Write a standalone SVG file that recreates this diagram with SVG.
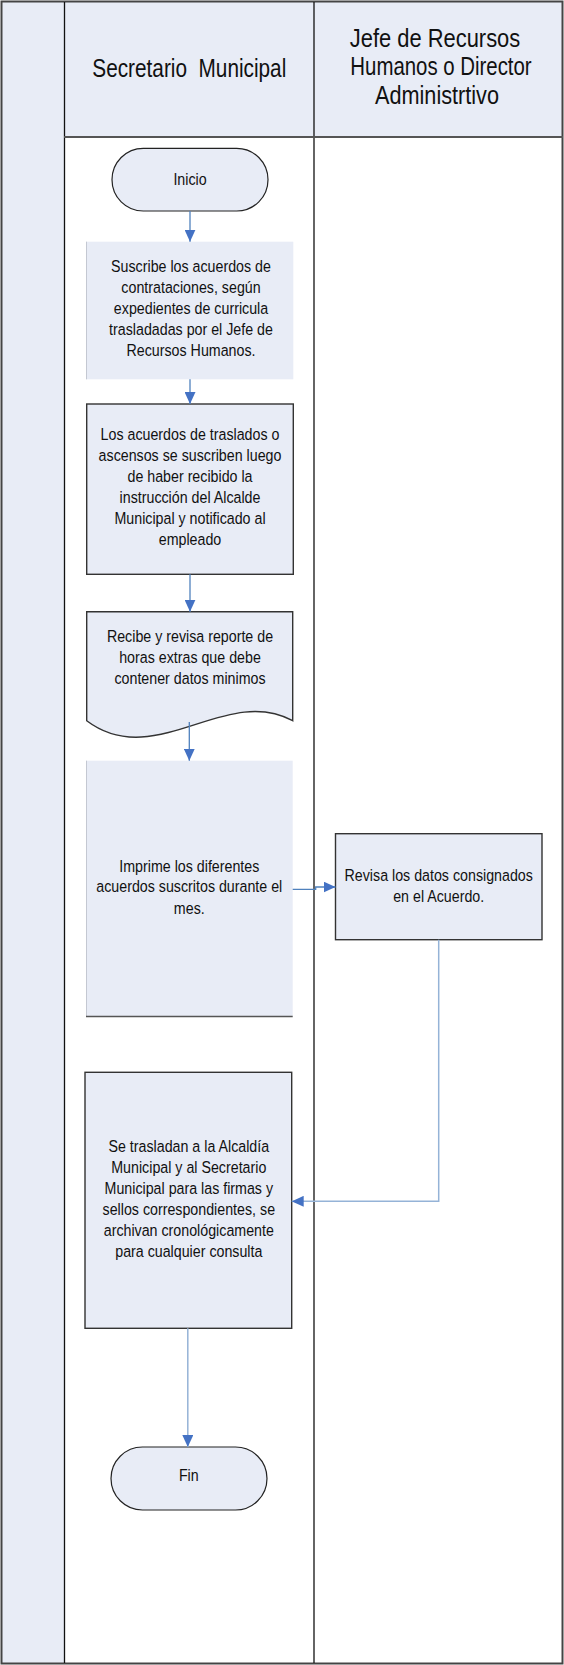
<svg xmlns="http://www.w3.org/2000/svg" width="564" height="1665" viewBox="0 0 564 1665">
<style>
.t{font-family:"Liberation Sans",Arial,sans-serif;font-size:17px;fill:#111;text-anchor:middle}
.h{font-family:"Liberation Sans",Arial,sans-serif;font-size:25.5px;fill:#111;text-anchor:middle}
.fill{fill:#E8ECF6}
.node{fill:#E8ECF6;stroke:#333;stroke-width:1.4}
.term{fill:#E8ECF6;stroke:#222;stroke-width:1.2}
.c1{fill:none;stroke:#4F81BD;stroke-width:1.3}
.c2{fill:none;stroke:#95B3D7;stroke-width:1.5}
</style>
<defs>
<marker id="ah" markerUnits="userSpaceOnUse" markerWidth="12" markerHeight="11" refX="12" refY="5.5" orient="auto">
<path d="M0,0 L12,5.5 L0,11 z" fill="#4472C4"/>
</marker>
</defs>
<g id="swimlanes">
<rect x="0" y="0" width="564" height="1665" fill="#fff"/>
<rect class="fill" x="2" y="2" width="62" height="1661"/>
<rect class="fill" x="64" y="2" width="498" height="135"/>
<rect x="1.5" y="1.5" width="561" height="1662" fill="none" stroke="#444" stroke-width="2"/>
<line x1="64.5" y1="2" x2="64.5" y2="1663" stroke="#111" stroke-width="1.3"/>
<line x1="314" y1="2" x2="314" y2="1663" stroke="#111" stroke-width="1.3"/>
<line x1="64" y1="137" x2="563" y2="137" stroke="#555" stroke-width="2"/>
<g transform="translate(189.3 0) scale(0.815 1)"><text class="h" x="0" y="77" xml:space="preserve">Secretario  Municipal</text></g>
<g transform="translate(435 0) scale(0.86 1)"><text class="h" x="0" y="47.5">Jefe de Recursos</text></g>
<g transform="translate(441 0) scale(0.80 1)"><text class="h" x="0" y="75.5">Humanos o Director</text></g>
<g transform="translate(437 0) scale(0.85 1)"><text class="h" x="0" y="104">Administrtivo</text></g>
</g>
<g id="inicio">
<rect class="term" x="112" y="148.3" width="156" height="62.7" rx="31.3"/>
<g transform="translate(190 0) scale(0.838 1)"><text class="t" x="0" y="185">Inicio</text></g>
</g>
<g id="suscribe">
<rect class="fill" x="86" y="241.7" width="207.3" height="137.6"/>
<line x1="86.5" y1="241.7" x2="86.5" y2="379.3" stroke="#c4c8d2" stroke-width="1"/>
<g transform="translate(191 0) scale(0.838 1)">
<text class="t" x="0" y="272.3">Suscribe los acuerdos de</text>
<text class="t" x="0" y="293.3">contrataciones, según</text>
<text class="t" x="0" y="314.2">expedientes de curricula</text>
<text class="t" x="0" y="335.1">trasladadas por el Jefe de</text>
<text class="t" x="0" y="356">Recursos Humanos.</text>
</g>
</g>
<g id="traslados">
<rect class="node" x="86.7" y="404" width="206.6" height="170.3"/>
<g transform="translate(190 0) scale(0.838 1)">
<text class="t" x="0" y="440">Los acuerdos de traslados o</text>
<text class="t" x="0" y="461">ascensos se suscriben luego</text>
<text class="t" x="0" y="482">de haber recibido la</text>
<text class="t" x="0" y="503">instrucción del Alcalde</text>
<text class="t" x="0" y="523.8">Municipal y notificado al</text>
<text class="t" x="0" y="545">empleado</text>
</g>
</g>
<g id="reporte">
<path class="node" d="M86.7,611.7 H292.7 V720.7 C225,684 155,772 86.7,720.7 Z"/>
<g transform="translate(190 0) scale(0.838 1)">
<text class="t" x="0" y="642.5">Recibe y revisa reporte de</text>
<text class="t" x="0" y="663.3">horas extras que debe</text>
<text class="t" x="0" y="684">contener datos minimos</text>
</g>
</g>
<g id="imprime">
<rect class="fill" x="86" y="760.7" width="206.7" height="256"/>
<line x1="86.5" y1="760.7" x2="86.5" y2="1016.7" stroke="#c4c8d2" stroke-width="1"/>
<line x1="86" y1="1016.5" x2="292.7" y2="1016.5" stroke="#555" stroke-width="1.3"/>
<g transform="translate(189.3 0) scale(0.838 1)">
<text class="t" x="0" y="871.7">Imprime los diferentes</text>
<text class="t" x="0" y="892.4">acuerdos suscritos durante el</text>
<text class="t" x="0" y="914">mes.</text>
</g>
</g>
<g id="revisa">
<rect class="node" x="335.5" y="833.7" width="206.5" height="106" stroke-width="1.6"/>
<g transform="translate(438.7 0) scale(0.838 1)">
<text class="t" x="0" y="880.7">Revisa los datos consignados</text>
<text class="t" x="0" y="902.3">en el Acuerdo.</text>
</g>
</g>
<g id="trasladan">
<rect class="node" x="85" y="1072.3" width="206.7" height="256"/>
<g transform="translate(188.8 0) scale(0.838 1)">
<text class="t" x="0" y="1152.3">Se trasladan a la Alcaldía</text>
<text class="t" x="0" y="1173.3">Municipal y al Secretario</text>
<text class="t" x="0" y="1194.2">Municipal para las firmas y</text>
<text class="t" x="0" y="1215.1">sellos correspondientes, se</text>
<text class="t" x="0" y="1236.1">archivan cronológicamente</text>
<text class="t" x="0" y="1257.2">para cualquier consulta</text>
</g>
</g>
<g id="fin">
<rect class="term" x="111" y="1447" width="156" height="63" rx="31.5"/>
<g transform="translate(188.8 0) scale(0.838 1)"><text class="t" x="0" y="1481">Fin</text></g>
</g>
<g id="connectors">
<path class="c1" d="M190,211 V241.7" marker-end="url(#ah)"/>
<path class="c1" d="M190,379.3 V404" marker-end="url(#ah)"/>
<path class="c1" d="M190,574.3 V611.7" marker-end="url(#ah)"/>
<path class="c1" d="M189.3,722 V760.7" marker-end="url(#ah)"/>
<path class="c1" d="M292.7,889.3 H315.7 V887 H335.5" marker-end="url(#ah)"/>
<path class="c2" d="M438.7,939.7 V1201.3 H291.7" marker-end="url(#ah)"/>
<path class="c2" d="M187.8,1328.3 V1447" marker-end="url(#ah)"/>
</g>
</svg>
